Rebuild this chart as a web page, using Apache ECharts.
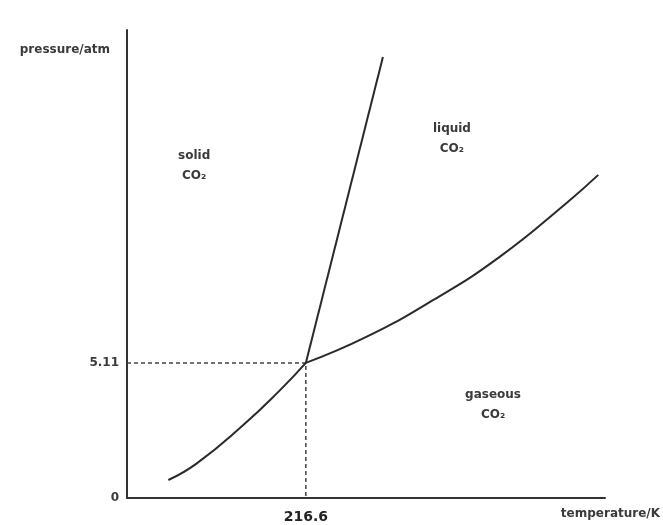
<!DOCTYPE html>
<html>
<head>
<meta charset="utf-8">
<script src="https://cdn.jsdelivr.net/npm/echarts@6/dist/echarts.min.js"></script>
<style>html,body{margin:0;padding:0;background:#fff}#c{width:663px;height:525px}</style>
</head>
<body>
<div id="c"></div>
<script>
// Schematic phase diagram of CO2
var triplePoint = [216.6, 5.11];
var sublimationCurve = [[165.4, 0.68], [176.0, 1.31], [193.3, 2.76], [207.0, 4.08], [216.6, 5.11]];
var meltingCurve = [[216.6, 5.11], [245.3, 16.68]];
var vaporizationCurve = [[216.6, 5.11], [239.3, 6.10], [264.1, 7.49], [288.9, 9.13], [313.7, 11.16], [325.5, 12.22]];
var yTickValues = [0, 5.11];
var yTickLabels = ['0', '5.11'];
var xTickValues = [216.6];
var xTickLabels = ['216.6'];
var regionNames = ['solid\nCO₂', 'liquid\nCO₂', 'gaseous\nCO₂'];
var regionAnchors = [[175.0, 12.56], [271.0, 13.58], [286.3, 3.52]];

var font = 'DejaVu Sans';
var textColor = '#3a3a3a';
var chart = echarts.init(document.getElementById('c'));
chart.setOption({
  animation: false,
  backgroundColor: '#fff',
  grid: { left: 127, right: 58, top: 30, bottom: 27 },
  xAxis: {
    type: 'value', min: 150, max: 328,
    name: 'temperature/K', nameLocation: 'end', nameGap: 55,
    nameTextStyle: { fontFamily: font, fontSize: 12, fontWeight: 'bold', color: textColor, align: 'right', verticalAlign: 'top', padding: [10, 0, 0, 0] },
    axisLine: { show: true, lineStyle: { color: '#333', width: 2 } },
    axisTick: { show: false },
    splitLine: { show: false },
    axisLabel: {
      customValues: xTickValues, margin: 12,
      fontFamily: font, fontSize: 14, fontWeight: 'bold', color: '#222',
      formatter: function (v) { var i = xTickValues.indexOf(v); return i >= 0 ? xTickLabels[i] : ''; }
    }
  },
  yAxis: {
    type: 'value', min: 0, max: 17.7,
    name: 'pressure/atm', nameLocation: 'end', nameGap: -20,
    nameTextStyle: { fontFamily: font, fontSize: 12, fontWeight: 'bold', color: textColor, align: 'right', verticalAlign: 'middle', padding: [0, 17, 0, 0] },
    axisLine: { show: true, lineStyle: { color: '#333', width: 2 } },
    axisTick: { show: false },
    splitLine: { show: false },
    axisLabel: {
      customValues: yTickValues, margin: 8,
      fontFamily: font, fontSize: 12, fontWeight: 'bold', color: textColor,
      formatter: function (v) { var i = yTickValues.indexOf(v); return i >= 0 ? yTickLabels[i] : ''; }
    }
  },
  series: [
    { type: 'line', data: [[150, triplePoint[1]], triplePoint, [triplePoint[0], 0]], symbol: 'none',
      lineStyle: { color: '#444', width: 1.5, type: [4, 3] } },
    { type: 'line', data: sublimationCurve, smooth: true, symbol: 'none', lineStyle: { color: '#2a2a2a', width: 2 } },
    { type: 'line', data: meltingCurve, symbol: 'none', lineStyle: { color: '#2a2a2a', width: 2 } },
    { type: 'line', data: vaporizationCurve, smooth: true, symbol: 'none', lineStyle: { color: '#2a2a2a', width: 2 } },
    { type: 'scatter', symbolSize: 0, silent: true, itemStyle: { opacity: 1 },
      data: regionAnchors.map(function (p, i) { return { value: p, name: regionNames[i] }; }),
      label: { show: true, position: 'inside', formatter: '{b}', fontFamily: font, fontSize: 12, fontWeight: 'bold', lineHeight: 20, color: textColor, align: 'center' } }
  ]
});
</script>
</body>
</html>
